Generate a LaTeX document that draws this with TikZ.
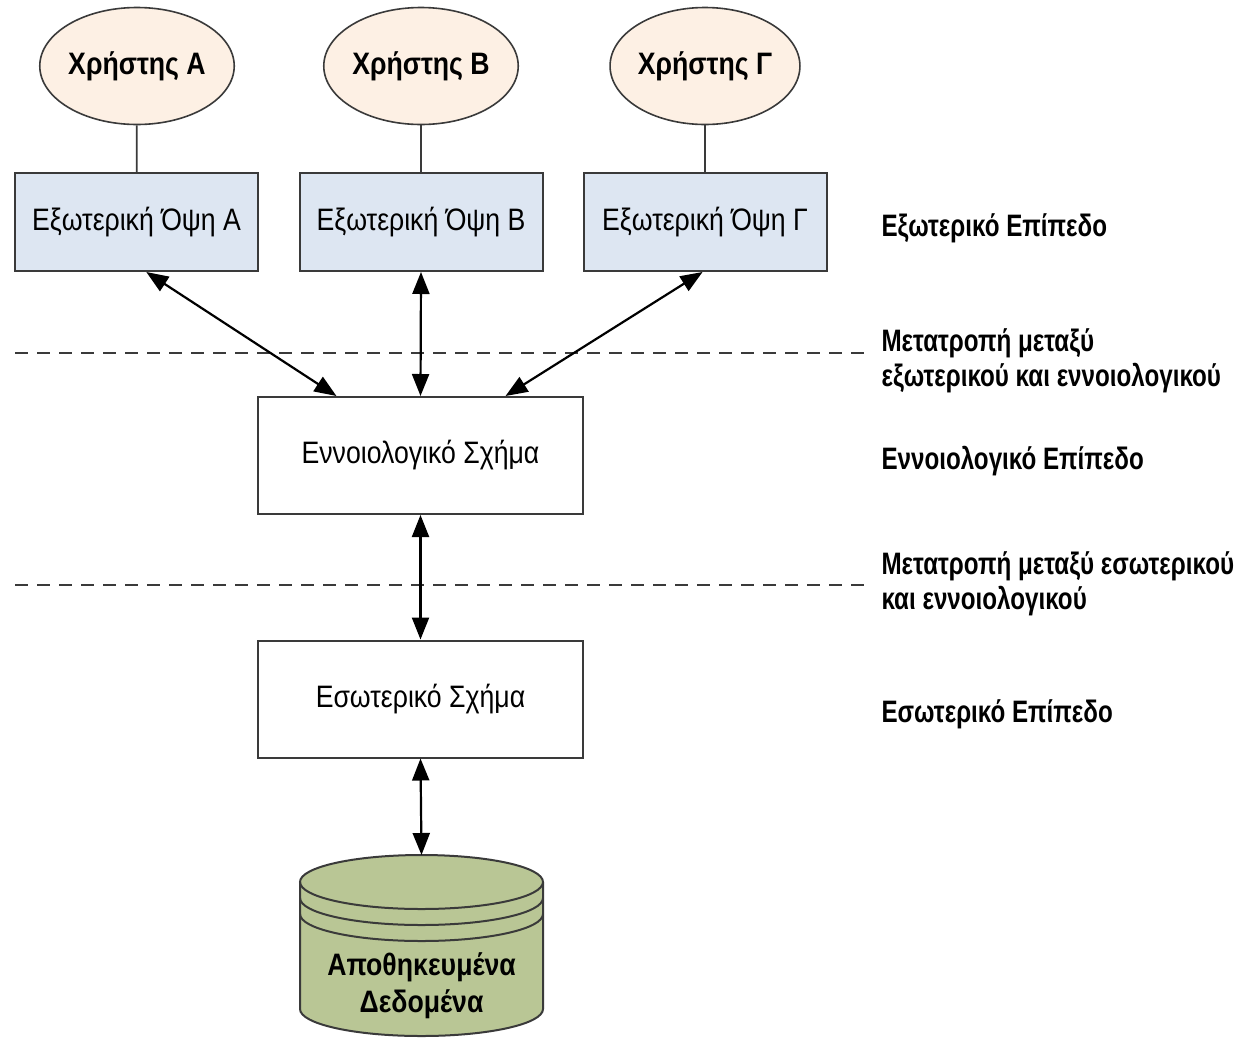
\documentclass[tikz,border=0pt]{standalone}
\usepackage{fontspec}
\setmainfont{Liberation Sans}[FakeStretch=0.86]
\newfontfamily\lvlfont{Liberation Sans}[FakeStretch=0.78]
\usetikzlibrary{shapes.geometric, arrows.meta, calc}
\definecolor{userfill}{HTML}{FDF0E4}
\definecolor{viewfill}{HTML}{DDE6F2}
\definecolor{dbfill}{HTML}{B9C695}
\definecolor{edge}{HTML}{3A3A3A}

\begin{document}
\begin{tikzpicture}[x=1pt, y=-1pt,
    user/.style={ellipse, draw=edge, fill=userfill, line width=1.6pt, inner sep=0pt,
      minimum width=189pt, minimum height=117pt, font={\fontsize{31}{36}\selectfont\bfseries}},
    view/.style={rectangle, draw=edge, fill=viewfill, line width=2pt,
      minimum width=243pt, minimum height=98pt, font={\fontsize{31}{36}\selectfont}},
    schema/.style={rectangle, draw=edge, fill=white, line width=2pt,
      minimum width=325pt, minimum height=117pt, font={\fontsize{31}{36}\selectfont}},
    level/.style={anchor=west, align=left, font={\lvlfont\bfseries\fontsize{31}{35}\selectfont}},
    link/.style={draw=edge, line width=1.8pt},
    both/.style={line width=2.2pt, {Triangle[length=22pt,width=17pt]}-{Triangle[length=22pt,width=17pt]}},
    divider/.style={dash pattern=on 13pt off 9pt, edge, line width=2pt}]
  \useasboundingbox (0,0) rectangle (1242,1037);

  % users
  \node[user] (userA) at (137,66) {Χρήστης Α};
  \node[user] (userB) at (421,66) {Χρήστης Β};
  \node[user] (userC) at (705,66) {Χρήστης Γ};

  % external views
  \node[view] (viewA) at (136.5,222) {Εξωτερική Όψη Α};
  \node[view] (viewB) at (421,222) {Εξωτερική Όψη Β};
  \node[view] (viewC) at (705,222) {Εξωτερική Όψη Γ};

  \draw[link] (userA) -- (viewA);
  \draw[link] (userB) -- (viewB);
  \draw[link] (userC) -- (viewC);

  % schemas
  \node[schema] (concept) at (420.5,455.5) {Εννοιολογικό Σχήμα};
  \node[schema] (internal) at (420.5,699) {Εσωτερικό Σχήμα};

  % dividers
  \draw[divider] (15,353) -- (870,353);
  \draw[divider] (15,585) -- (870,585);

  % stored data
  \fill[dbfill] (300,882) rectangle (543,1009);
  \fill[dbfill] (421.5,1009) ellipse (121.5 and 27);
  \fill[dbfill] (421.5,882) ellipse (121.5 and 27);
  \draw[edge, line width=2pt] (421.5,882) ellipse (121.5 and 27);
  \draw[edge, line width=2pt] (300,882) -- (300,1009)
    arc[start angle=180, end angle=0, x radius=121.5, y radius=27] -- (543,882);
  \draw[edge, line width=2pt] (300,898)
    arc[start angle=180, end angle=0, x radius=121.5, y radius=27];
  \draw[edge, line width=2pt] (300,914)
    arc[start angle=180, end angle=0, x radius=121.5, y radius=27];
  \coordinate (dbtop) at (421.5,855);
  \node[align=center, font={\fontsize{31}{37}\selectfont\bfseries}] (db) at (421.5,986)
    {Αποθηκευμένα\\Δεδομένα};

  % mappings
  \draw[both] ($(viewA.south west)!0.54!(viewA.south east)$)
    -- ($(concept.north west)!0.243!(concept.north east)$);
  \draw[both] (viewB.south) -- (concept.north);
  \draw[both] ($(viewC.south west)!0.49!(viewC.south east)$)
    -- ($(concept.north west)!0.76!(concept.north east)$);
  \draw[both] (concept.south) -- (internal.north);
  \draw[both] (internal.south) -- (dbtop);

  % levels
  \node[level] (extlevel) at (878,228) {Εξωτερικό Επίπεδο};
  \node[level] (extmap) at (878,360.5) {Μετατροπή μεταξύ\\εξωτερικού και εννοιολογικού};
  \node[level] (conclevel) at (878,461) {Εννοιολογικό Επίπεδο};
  \node[level] (intmap) at (878,583.5) {Μετατροπή μεταξύ εσωτερικού\\και εννοιολογικού};
  \node[level] (intlevel) at (878,714) {Εσωτερικό Επίπεδο};
\end{tikzpicture}
\end{document}
